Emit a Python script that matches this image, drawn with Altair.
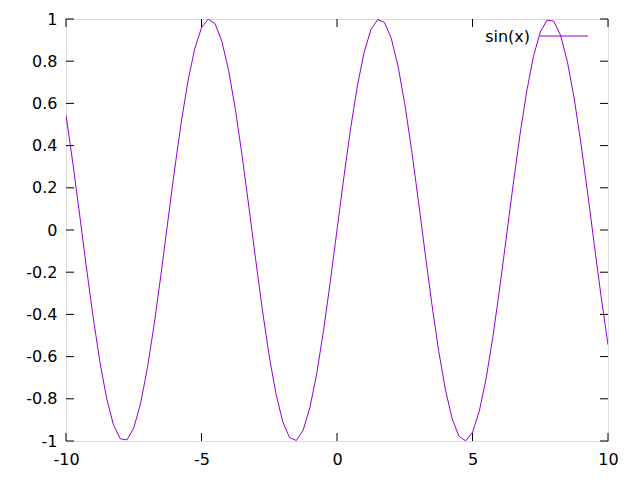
import altair as alt
import pandas as pd

pos_x = [0.0, 0.25, 0.5, 0.75, 1.0, 1.25, 1.5, 1.75, 2.0, 2.25, 2.5, 2.75, 3.0, 3.25, 3.5, 3.75,
         4.0, 4.25, 4.5, 4.75, 5.0, 5.25, 5.5, 5.75, 6.0, 6.25, 6.5, 6.75, 7.0, 7.25, 7.5, 7.75,
         8.0, 8.25, 8.5, 8.75, 9.0, 9.25, 9.5, 9.75, 10.0]
pos_y = [0.0, 0.2474, 0.4794, 0.6816, 0.8415, 0.9490, 0.9975, 0.9840, 0.9093, 0.7781, 0.5985,
         0.3817, 0.1411, -0.1082, -0.3508, -0.5716, -0.7568, -0.8950, -0.9775, -0.9993, -0.9589,
         -0.8589, -0.7055, -0.5083, -0.2794, -0.0332, 0.2151, 0.4500, 0.6570, 0.8231, 0.9380,
         0.9946, 0.9894, 0.9228, 0.7985, 0.6247, 0.4121, 0.1743, -0.0752, -0.3195, -0.5440]

xs = [-v for v in reversed(pos_x[1:])] + pos_x
ys = [-v for v in reversed(pos_y[1:])] + pos_y

x_ticks = [-10, -5, 0, 5, 10]
y_ticks = [-1.0, -0.8, -0.6, -0.4, -0.2, 0.0, 0.2, 0.4, 0.6, 0.8, 1.0]
legend_label = "sin(x)"

W, H = 542, 422
FONT = "DejaVu Sans"
FS = 16
COLOR = "#9400D3"

curve = pd.DataFrame({"x": xs, "y": ys})
xt = pd.DataFrame({"x": x_ticks})
yt = pd.DataFrame({"y": y_ticks})

xscale = alt.Scale(domain=[-10, 10], nice=False, zero=False)
yscale = alt.Scale(domain=[-1, 1], nice=False, zero=False)

xaxis = alt.Axis(values=x_ticks, title=None, tickSize=0, domain=False, grid=False,
                 labelFont=FONT, labelFontSize=FS, labelColor="black", labelPadding=10,
                 labelFlush=False, labelExpr="toString(datum.value)")
yaxis = alt.Axis(values=y_ticks, title=None, tickSize=0, domain=False, grid=False,
                 labelFont=FONT, labelFontSize=FS, labelColor="black", labelPadding=9,
                 labelFlush=False,
                 labelExpr="datum.value == 0 ? '0' : toString(round(datum.value*10)/10)")

line = alt.Chart(curve).mark_line(color=COLOR, strokeWidth=1, clip=True).encode(
    x=alt.X("x:Q", scale=xscale, axis=xaxis),
    y=alt.Y("y:Q", scale=yscale, axis=yaxis),
)

TL = 8
xtick_bot = alt.Chart(xt).mark_rule(color="black", strokeWidth=1).encode(
    x=alt.X("x:Q", scale=xscale), y=alt.value(H), y2=alt.value(H - TL))
xtick_top = alt.Chart(xt).mark_rule(color="black", strokeWidth=1).encode(
    x=alt.X("x:Q", scale=xscale), y=alt.value(0), y2=alt.value(TL))
ytick_l = alt.Chart(yt).mark_rule(color="black", strokeWidth=1).encode(
    y=alt.Y("y:Q", scale=yscale), x=alt.value(0), x2=alt.value(TL))
ytick_r = alt.Chart(yt).mark_rule(color="black", strokeWidth=1).encode(
    y=alt.Y("y:Q", scale=yscale), x=alt.value(W), x2=alt.value(W - TL))

leg_df = pd.DataFrame({"label": [legend_label]})
leg_text = alt.Chart(leg_df).mark_text(align="right", baseline="middle", font=FONT,
                                       fontSize=FS, color="black").encode(
    text="label:N", x=alt.value(464), y=alt.value(18))
leg_line = alt.Chart(leg_df).mark_rule(color=COLOR, strokeWidth=1).encode(
    x=alt.value(474), x2=alt.value(522), y=alt.value(17))

chart = alt.layer(line, xtick_bot, xtick_top, ytick_l, ytick_r, leg_line, leg_text).properties(
    width=W, height=H,
    autosize=alt.AutoSizeParams(type="none"),
    padding={"left": 58, "top": 11, "right": 24, "bottom": 31},
).configure_view(stroke="black", strokeWidth=1).configure(background="white")

chart.save("out.html", embed_options={"renderer": "svg", "actions": False})
